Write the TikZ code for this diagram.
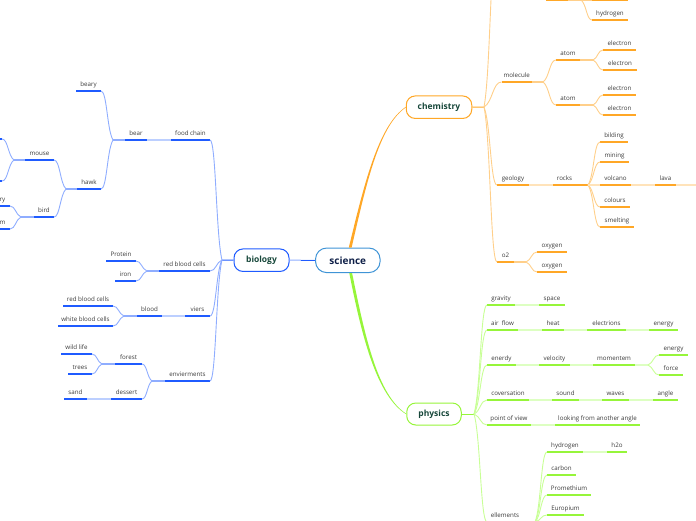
\documentclass[tikz,border=0pt]{standalone}
\usepackage{fontspec}
\setmainfont{Open Sans}
\usetikzlibrary{calc}
\definecolor{txt}{HTML}{3A3A3A}
\definecolor{titlegreen}{HTML}{17473A}
\definecolor{titlenavy}{HTML}{0F2048}
\definecolor{sciborder}{HTML}{3F94D6}
\definecolor{bluemain}{HTML}{1F5BFF}
\definecolor{orangemain}{HTML}{FFA726}
\definecolor{greenmain}{HTML}{96F53A}
\colorlet{tcU}{black}\colorlet{tcC}{black}\colorlet{tcS}{black}
\tikzset{
  lab/.style={inner sep=0pt,outer sep=0pt,anchor=south west,text=txt,font=\fontsize{6.2}{7}\selectfont,text height=6pt,text depth=4.8pt,align=center},
  underl/.style={draw=tcU,line width=1.7pt},
  forkl/.style={draw=tcC,line width=0.9pt},
  straightl/.style={draw=tcS,line width=1.7pt},
  stubl/.style={draw=tcC,line width=1.2pt},
  mainbox/.style={draw,line width=1pt,rounded corners=9pt,inner sep=0pt,font=\bfseries\fontsize{8.5}{9}\selectfont,text=titlegreen},
}
% name, x1, x2, y, text
\newcommand\tp[5]{\pgfmathsetmacro\tpw{#3-#2}\node[lab,minimum width=\tpw pt] (#1) at (#2,#4) {#5};\draw[underl] (#1.south west) -- (#1.south east);}
\newcommand\cvv[2]{\coordinate (cA) at ($(#1)!.5!(#2 |- #1)$);\coordinate (cB) at ($(#1 |- #2)!.5!(#2)$);\draw[forkl] (#1) .. controls ($(cA)!.2!(cB)$) and (cB) .. (#2);}
\newcommand\stt[2]{\draw[straightl] (#1) -- (#2);}
\newcommand\stub[2]{\draw[stubl] (#1) -- (#2);}
\begin{document}
\begin{tikzpicture}[x=1pt,y=-1pt]
\useasboundingbox (0,0) rectangle (696,520);
\clip (0,0) rectangle (696,520);
% main nodes
\node[mainbox,draw=sciborder,minimum width=64.5pt,minimum height=24.5pt,rounded corners=11pt,font=\bfseries\fontsize{10}{11}\selectfont,text=titlenavy] (science) at (347.8,260.3) {science};
\node[mainbox,draw=bluemain,minimum width=55pt,minimum height=22.5pt] (biology) at (261.5,260.2) {biology};
\node[mainbox,draw=orangemain,minimum width=65.5pt,minimum height=22.5pt] (chemistry) at (439,107.2) {chemistry};
\node[mainbox,draw=greenmain,minimum width=54.5pt,minimum height=22pt] (physics) at (434,414) {physics};
\fill[orangemain] ($(science.north)+(1,0)$) .. controls (364,185) and (378,125.5) .. ($(chemistry.west)+(0,-0.3)$) -- ($(chemistry.west)+(0,0.3)$) .. controls (378.6,126.2) and (366,185.5) .. ($(science.north)+(3.8,0)$) -- cycle;
\fill[greenmain] ($(science.south)+(1.5,0)$) .. controls (362.5,340.5) and (377.5,396.5) .. ($(physics.west)+(0,0.3)$) -- ($(physics.west)+(0,-0.3)$) .. controls (378.2,395.6) and (365.5,339.5) .. ($(science.south)+(4.3,0)$) -- cycle;
% BIOLOGY
\begin{scope}
\colorlet{tcU}{bluemain}\definecolor{tcC}{HTML}{8FADFF}\definecolor{tcS}{HTML}{BCCFFF}
\coordinate (jbio) at (222,260);
\draw[draw=bluemain,line width=1pt] (biology.west) -- (jbio);
\draw[draw=tcC,line width=1pt] (biology.east) -- (science.west);
\draw[draw=bluemain,line width=1pt] (science.west) -- ++(-14,0);
\tp{foodchain}{171}{210}{140}{food chain}
\tp{rbc}{159}{210}{271}{red blood cells}
\tp{viers}{185}{210}{316}{viers}
\tp{envi}{165}{210}{381}{envierments}
\cvv{jbio}{foodchain.south east}\cvv{jbio}{rbc.south east}\cvv{jbio}{viers.south east}\cvv{jbio}{envi.south east}
\tp{bear}{125}{147}{140}{bear}
\stt{foodchain.south west}{bear.south east}
\coordinate (jbear) at (113,140);
\stub{bear.south west}{jbear}
\tp{beary}{76}{101}{91}{beary}
\tp{hawk}{77}{101}{189}{hawk}
\cvv{jbear}{beary.south east}\cvv{jbear}{hawk.south east}
\coordinate (jhawk) at (66,189);
\stub{hawk.south west}{jhawk}
\tp{mouse}{25}{54}{160}{mouse}
\tp{bird}{34}{54}{217}{bird}
\cvv{jhawk}{mouse.south east}\cvv{jhawk}{bird.south east}
\coordinate (jmouse) at (14,160);
\stub{mouse.south west}{jmouse}
\tp{ma}{-30}{2}{139}{}
\tp{mb}{-30}{2}{181}{}
\cvv{jmouse}{ma.south east}\cvv{jmouse}{mb.south east}
\coordinate (jbird) at (21,217);
\stub{bird.south west}{jbird}
\tp{ba}{-5}{10}{206}{ry}
\tp{bb}{-5}{10}{229}{m}
\cvv{jbird}{ba.south east}\cvv{jbird}{bb.south east}
\coordinate (jrbc) at (147,271);
\stub{rbc.south west}{jrbc}
\tp{protein}{106}{136}{261}{Protein}
\tp{iron}{115}{136}{281}{iron}
\cvv{jrbc}{protein.south east}\cvv{jrbc}{iron.south east}
\tp{blood}{137}{162}{316}{blood}
\stt{viers.south west}{blood.south east}
\coordinate (jblood) at (124,316);
\stub{blood.south west}{jblood}
\tp{rbcb}{63}{113}{306}{red blood cells}
\tp{wbc}{58}{113}{326}{white blood cells}
\cvv{jblood}{rbcb.south east}\cvv{jblood}{wbc.south east}
\coordinate (jenvi) at (152,381);
\stub{envi.south west}{jenvi}
\tp{forest}{115}{142}{364}{forest}
\tp{dessert}{111}{142}{399}{dessert}
\cvv{jenvi}{forest.south east}\cvv{jenvi}{dessert.south east}
\coordinate (jforest) at (102,364);
\stub{forest.south west}{jforest}
\tp{wild}{61}{92}{354}{wild life}
\tp{trees}{68}{92}{374}{trees}
\cvv{jforest}{wild.south east}\cvv{jforest}{trees.south east}
\tp{sand}{64}{87}{399}{sand}
\stt{dessert.south west}{sand.south east}
\end{scope}
% CHEMISTRY
\begin{scope}
\colorlet{tcU}{orangemain}\definecolor{tcC}{HTML}{FFCF8A}\definecolor{tcS}{HTML}{FFE3BA}
\coordinate (jchem) at (484,107);
\draw[draw=orangemain,line width=1pt] (chemistry.east) -- (jchem);
\coordinate (chemtop) at (497,-60);
\cvv{jchem}{chemtop}
\tp{tparent}{546}{568}{0}{}
\coordinate (jtop) at (581,0);
\draw[draw=tcC,line width=1.7pt] (tparent.south east) -- (jtop);
\tp{tchild}{592}{628}{0}{}
\tp{hydro}{592}{628}{20}{hydrogen}
\stub{jtop}{tchild.south west}
\cvv{jtop}{hydro.south west}
\tp{molecule}{501.5}{532}{82}{molecule}
\tp{geology}{497}{529}{185}{geology}
\tp{otwo}{497}{514}{262}{o2}
\cvv{jchem}{molecule.south west}\cvv{jchem}{geology.south west}\cvv{jchem}{otwo.south west}
\coordinate (jmol) at (543,82);
\stub{molecule.south east}{jmol}
\tp{atoma}{556}{580}{60}{atom}
\tp{atomb}{556}{580}{105}{atom}
\cvv{jmol}{atoma.south west}\cvv{jmol}{atomb.south west}
\coordinate (jata) at (593,60);
\coordinate (jatb) at (593,105);
\draw[draw=tcC,line width=1.7pt] (atoma.south east) -- (jata);
\draw[draw=tcC,line width=1.7pt] (atomb.south east) -- (jatb);
\tp{ea}{603}{636}{50}{electron}
\tp{eb}{603}{637}{70}{electron}
\tp{ec}{603}{636}{95}{electron}
\tp{ed}{603}{636}{115}{electron}
\cvv{jata}{ea.south west}\cvv{jata}{eb.south west}\cvv{jatb}{ec.south west}\cvv{jatb}{ed.south west}
\tp{rocks}{553}{576}{185}{rocks}
\stt{geology.south east}{rocks.south west}
\coordinate (jrocks) at (588,185);
\draw[draw=orangemain,line width=1.3pt] (rocks.south east) -- (jrocks);
\tp{bilding}{600}{628}{142}{bilding}
\tp{mining}{600}{629}{162}{mining}
\tp{volcano}{600}{631}{185}{volcano}
\tp{colours}{600}{630}{207}{colours}
\tp{smelting}{600}{634}{227}{smelting}
\cvv{jrocks}{bilding.south west}\cvv{jrocks}{mining.south west}\cvv{jrocks}{colours.south west}\cvv{jrocks}{smelting.south west}
\stt{jrocks}{volcano.south west}
\tp{lava}{655}{676}{185}{lava}
\stt{volcano.south east}{lava.south west}
\coordinate (lavaend) at (700,185);
\stt{lava.south east}{lavaend}
\coordinate (jotwo) at (526,262);
\stub{otwo.south east}{jotwo}
\tp{oxa}{537}{567}{252}{oxygen}
\tp{oxb}{537}{567}{272}{oxygen}
\cvv{jotwo}{oxa.south west}\cvv{jotwo}{oxb.south west}
\end{scope}
% PHYSICS
\begin{scope}
\colorlet{tcU}{greenmain}\definecolor{tcC}{HTML}{C8FF96}\definecolor{tcS}{HTML}{DDFFC2}
\coordinate (jphy) at (474,414);
\draw[draw=greenmain,line width=1pt] (physics.east) -- (jphy);
\tp{gravity}{487}{515}{305}{gravity}
\tp{airflow}{487}{518}{330}{air~~flow}
\tp{enerdy}{487}{516}{365}{enerdy}
\tp{conv}{487}{529}{400}{coversation}
\tp{pov}{487}{531}{425}{point of view}
\tp{ellem}{487}{523}{522}{ellements}
\cvv{jphy}{gravity.south west}\cvv{jphy}{airflow.south west}\cvv{jphy}{enerdy.south west}\cvv{jphy}{conv.south west}\cvv{jphy}{pov.south west}\cvv{jphy}{ellem.south west}
\tp{space}{539}{565}{305}{space}
\stt{gravity.south east}{space.south west}
\tp{heat}{542}{564}{330}{heat}
\tp{electrions}{587}{626}{330}{electrions}
\tp{energya}{649}{678}{330}{energy}
\stt{airflow.south east}{heat.south west}\stt{heat.south east}{electrions.south west}\stt{electrions.south east}{energya.south west}
\tp{velocity}{539}{570}{365}{velocity}
\tp{momentem}{593}{635}{365}{momentem}
\stt{enerdy.south east}{velocity.south west}\stt{velocity.south east}{momentem.south west}
\coordinate (jmom) at (648,365);
\stt{momentem.south east}{jmom}
\tp{energyb}{659}{688}{355}{energy}
\tp{force}{659}{683}{375}{force}
\cvv{jmom}{energyb.south west}\cvv{jmom}{force.south west}
\tp{sound}{552}{579}{400}{sound}
\tp{waves}{602}{629}{400}{waves}
\tp{angle}{653}{678}{400}{angle}
\stt{conv.south east}{sound.south west}\stt{sound.south east}{waves.south west}\stt{waves.south east}{angle.south west}
\tp{looking}{555}{640}{425}{looking from another angle}
\stt{pov.south east}{looking.south west}
\coordinate (jell) at (535,522);
\stub{ellem.south east}{jell}
\tp{hydrogen}{547}{583}{452}{hydrogen}
\tp{carbon}{547}{576}{475}{carbon}
\tp{prom}{547}{591}{495}{Promethium}
\tp{euro}{547}{584}{515}{Europium}
\cvv{jell}{hydrogen.south west}\cvv{jell}{carbon.south west}\cvv{jell}{prom.south west}\cvv{jell}{euro.south west}
\tp{htwoo}{607}{627}{452}{h2o}
\stt{hydrogen.south east}{htwoo.south west}
\end{scope}
\end{tikzpicture}
\end{document}
